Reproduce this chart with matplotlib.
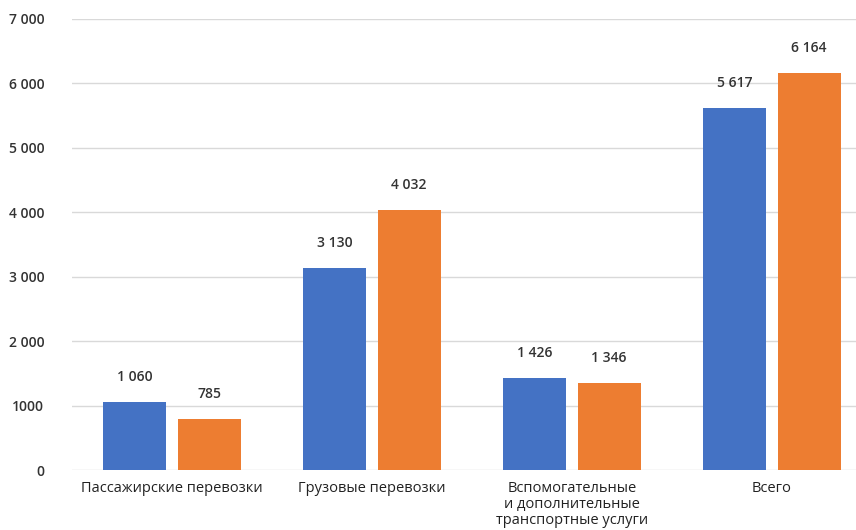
import matplotlib
matplotlib.use('Agg')
import matplotlib.pyplot as plt
import numpy as np

categories = ['Пассажирские перевозки', 'Грузовые перевозки',
              'Вспомогательные\nи дополнительные\nтранспортные услуги', 'Всего']
values_a = [1060, 3130, 1426, 5617]
values_b = [785, 4032, 1346, 6164]
yticks = [0, 1000, 2000, 3000, 4000, 5000, 6000, 7000]
ytick_labels = ['0', '1000', '2 000', '3 000', '4 000', '5 000', '6 000', '7 000']

def fmt(v):
    return '{:,}'.format(v).replace(',', ' ')

plt.rcParams['font.family'] = ['Open Sans', 'DejaVu Sans']

fig = plt.figure(figsize=(8.56, 5.30), dpi=100)
ax = fig.add_axes([72 / 856, 60 / 530, 800 / 856, 451 / 530])

x = np.arange(len(categories))
w = 0.315
b1 = ax.bar(x - 0.187, values_a, w, color='#4472C4')
b2 = ax.bar(x + 0.185, values_b, w, color='#ED7D31')

for bars, vals in ((b1, values_a), (b2, values_b)):
    for r, v in zip(bars, vals):
        ax.annotate(fmt(v), (r.get_x() + r.get_width() / 2, v), xytext=(0, 13),
                    textcoords='offset points', ha='center', va='bottom',
                    fontsize=10, fontweight='semibold', color='#333333')

ax.set_xlim(-0.5, 3.5)
ax.set_ylim(0, 7000)
ax.set_yticks(yticks)
ax.set_yticklabels(ytick_labels, fontsize=10, fontweight='semibold', color='#333333')
ax.set_xticks(x)
ax.set_xticklabels(categories, fontsize=10.5, color='#222222', linespacing=1.1, va='top')
ax.tick_params(axis='both', length=0)
ax.tick_params(axis='y', pad=20)
ax.tick_params(axis='x', pad=8)
ax.grid(axis='y', color='#d9d9d9', linewidth=1)
ax.set_axisbelow(True)
for s in ax.spines.values():
    s.set_visible(False)

fig.savefig('out.png', dpi=100)
